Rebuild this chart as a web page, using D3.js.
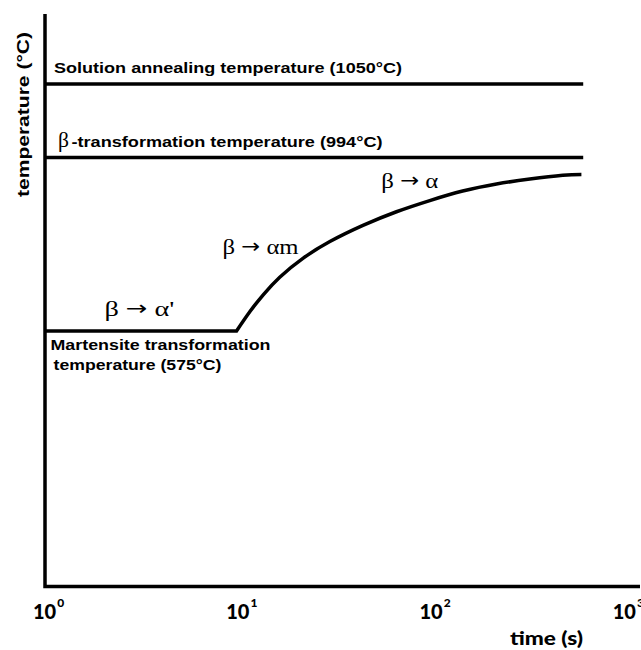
<!DOCTYPE html>
<html>
<head>
<meta charset="utf-8">
<script src="https://cdn.jsdelivr.net/npm/d3@7"></script>
<style>
  html, body { margin: 0; padding: 0; background: #fff; }
  svg { display: block; }
</style>
</head>
<body>
<script>
// Time axis decades (s) and their exponents
const tickValues = [1, 10, 100, 1000];
const tickExponents = ["0", "1", "2", "3"];

// Characteristic temperatures (°C)
const solutionTemp = 1050;
const betaTransusTemp = 994;
const martensiteTemp = 575;
const levelTemps = [solutionTemp, betaTransusTemp];
const levelEndTime = 610; // s

// Cooling transformation curve: time (s) and temperature (°C)
const curveTime = [1, 9.8, 11.5, 13.5, 16.4, 21.7, 29.8, 44.2, 65.9, 98, 145, 217, 323, 478, 597];
const curveTemp = [575, 575, 622, 663, 705, 751, 791, 830, 863, 890, 913, 930, 942, 951, 953];

// Phase transformation labels: parent phase, product phase
const phaseFrom = ["β", "β", "β"];
const phaseTo = ["α'", "αm", "α"];

const W = 641, H = 650;
const svg = d3.select("body").append("svg").attr("width", W).attr("height", H);

// Logarithmic time scale; schematic (piecewise) temperature scale
const x = d3.scaleLog().domain([1, 1200]).range([45, 640]);
const y = d3.scaleLinear()
  .domain([0, martensiteTemp, betaTransusTemp, solutionTemp, 1100])
  .range([586.5, 331, 157.5, 84, 14]);

const sans = "'Liberation Sans', Arial, sans-serif";
const serif = "'Liberation Serif', 'Times New Roman', serif";
const calib = "Lato, 'Open Sans', sans-serif";

// Axes
svg.append("path")
  .attr("d", `M${x(1)},${y(1100)} V${y(0)} H${x(1200)}`)
  .attr("fill", "none").attr("stroke", "#000").attr("stroke-width", 3.5);

// Decade labels 10^n
const tl = svg.append("g").selectAll("text").data(tickValues).join("text")
  .attr("x", d => x(d) - 12).attr("y", 619)
  .attr("font-family", calib).attr("font-weight", 900).attr("font-size", 20)
  .attr("fill", "#000");
tl.append("tspan").text("10");
tl.append("tspan").attr("dx", 1).attr("dy", -12).attr("font-size", 12)
  .text((d, i) => tickExponents[i]);

// Axis titles
svg.append("text").attr("x", 510).attr("y", 645)
  .attr("font-family", calib).attr("font-weight", 900).attr("font-size", 18)
  .attr("textLength", 73).attr("lengthAdjust", "spacingAndGlyphs")
  .text("time  (s)");
svg.append("text")
  .attr("transform", `translate(29,${(32 + 197) / 2}) rotate(-90)`)
  .attr("text-anchor", "middle")
  .attr("font-family", sans).attr("font-weight", 700).attr("font-size", 17)
  .attr("textLength", 165).attr("lengthAdjust", "spacingAndGlyphs")
  .text("temperature (°C)");

// Horizontal temperature levels
svg.append("g").selectAll("line").data(levelTemps).join("line")
  .attr("x1", x(1)).attr("x2", x(levelEndTime))
  .attr("y1", d => y(d)).attr("y2", d => y(d))
  .attr("stroke", "#000").attr("stroke-width", 3.5);

// Transformation curve: straight isothermal hold, then a smooth rise
const pts = curveTime.map((t, i) => [t, curveTemp[i]]);
const smooth = d3.line().x(d => x(d[0])).y(d => y(d[1])).curve(d3.curveNatural);
const rise = smooth(pts.slice(1)).replace(/^M/, "L");
svg.append("path")
  .attr("d", `M${x(pts[0][0])},${y(pts[0][1])}` + rise)
  .attr("fill", "none").attr("stroke", "#000").attr("stroke-width", 3.5)
  .attr("stroke-linejoin", "miter");

// Level labels
svg.append("text").attr("x", 54).attr("y", y(solutionTemp) - 11.5)
  .attr("font-family", sans).attr("font-weight", 700).attr("font-size", 15)
  .attr("textLength", 348).attr("lengthAdjust", "spacingAndGlyphs")
  .text("Solution annealing temperature (1050°C)");

const bt = svg.append("g");
bt.append("text").attr("x", 58).attr("y", y(betaTransusTemp) - 11)
  .attr("font-family", serif).attr("font-size", 22)
  .attr("textLength", 11).attr("lengthAdjust", "spacingAndGlyphs")
  .text("β");
bt.append("text").attr("x", 71.5).attr("y", y(betaTransusTemp) - 11)
  .attr("font-family", sans).attr("font-weight", 700).attr("font-size", 15)
  .attr("textLength", 311).attr("lengthAdjust", "spacingAndGlyphs")
  .text("-transformation temperature (994°C)");

svg.append("text").attr("x", 50.5).attr("y", y(martensiteTemp) + 19)
  .attr("font-family", sans).attr("font-weight", 700).attr("font-size", 15)
  .attr("textLength", 220).attr("lengthAdjust", "spacingAndGlyphs")
  .text("Martensite transformation");
svg.append("text").attr("x", 53.5).attr("y", y(martensiteTemp) + 39)
  .attr("font-family", sans).attr("font-weight", 700).attr("font-size", 15)
  .attr("textLength", 168).attr("lengthAdjust", "spacingAndGlyphs")
  .text("temperature (575°C)");

// Phase labels, anchored in time/temperature units
const phaseTime = [2.03, 8.3, 55];
const phaseTemp = [612, 761, 920];
const phaseWidth = [70, 76, 57];
const pl = svg.append("g").selectAll("text").data(phaseTo).join("text")
  .attr("x", (d, i) => x(phaseTime[i])).attr("y", (d, i) => y(phaseTemp[i]))
  .attr("font-family", serif).attr("font-size", 22)
  .attr("textLength", (d, i) => phaseWidth[i]).attr("lengthAdjust", "spacingAndGlyphs");
pl.append("tspan").text((d, i) => phaseFrom[i] + " ");
pl.append("tspan").attr("font-family", "'DejaVu Sans', sans-serif").attr("font-size", 20)
  .attr("dy", -1).text("→");
pl.append("tspan").attr("dy", 1).text(d => " " + d);
</script>
</body>
</html>
